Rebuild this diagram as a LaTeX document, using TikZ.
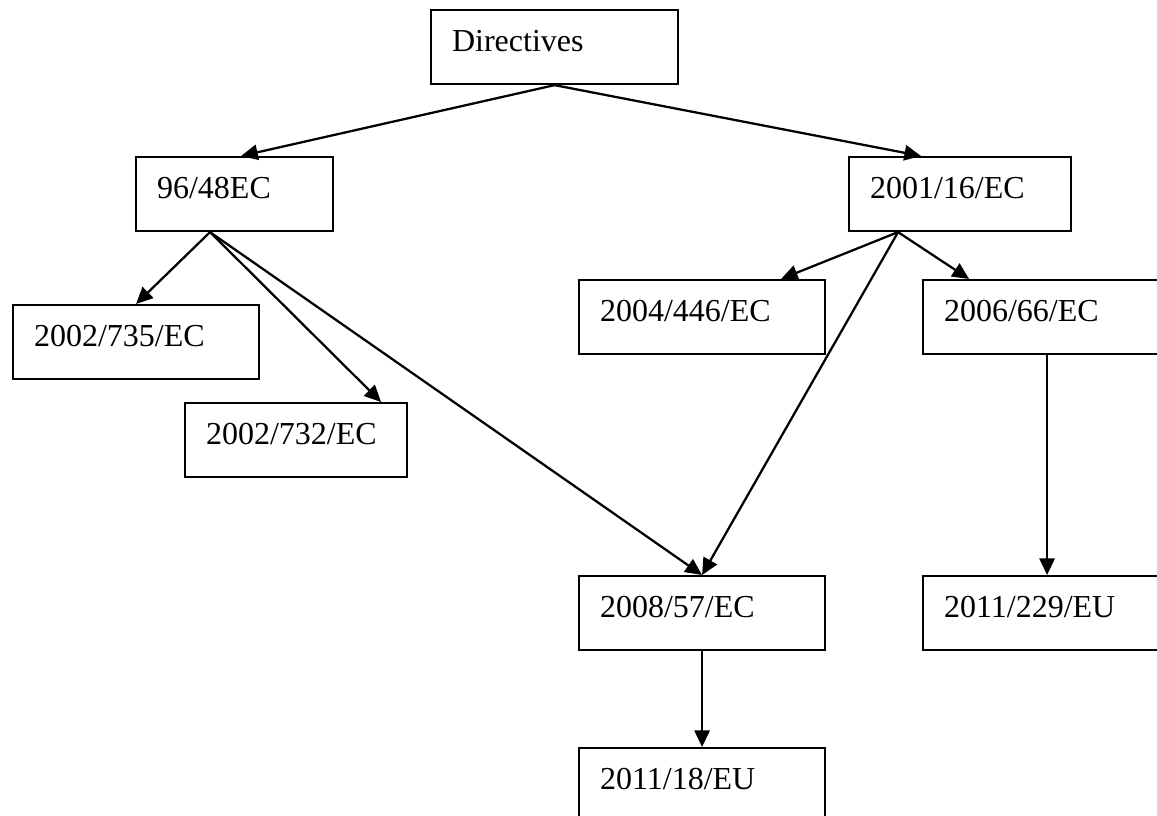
\documentclass[tikz,border=0pt]{standalone}
\usepackage{fontspec}
\setmainfont{Liberation Serif}
\usetikzlibrary{arrows.meta}

\begin{document}
\begin{tikzpicture}[x=0.75pt,y=0.75pt,yscale=-1,xscale=1,
  dirbox/.style={draw, line width=1.6pt, anchor=north west, inner xsep=15.75pt, inner ysep=0pt,
    text height=30.75pt, text depth=24.75pt, align=left, text width={(#1-42)*0.75pt},
    font=\fontsize{24}{28}\selectfont},
  link/.style={line width=1.7pt, -{Triangle[length=12.5pt,width=11.5pt]}}]
%set diagram left start at 0, and has height of 816
\path[use as bounding box, clip] (0,0) rectangle (1157,816);

% Boxes
\node [dirbox=247] (dir) at (430,9) {Directives};
\node [dirbox=197] (n96) at (135,156) {96/48EC};
\node [dirbox=222] (n2001) at (848,156) {2001/16/EC};
\node [dirbox=246] (n735) at (12,304) {2002/735/EC};
\node [dirbox=222] (n732) at (184,402) {2002/732/EC};
\node [dirbox=246] (n446) at (578,279) {2004/446/EC};
\node [dirbox=248] (n2006) at (922,279) {2006/66/EC};
\node [dirbox=246] (n2008) at (578,575) {2008/57/EC};
\node [dirbox=248] (n229) at (922,575) {2011/229/EU};
\node [dirbox=246] (n18) at (578,747) {2011/18/EU};

% Arrows
\draw [link] (dir.south) -- ([xshift=4.9pt]n96.north);
\draw [link] (dir.south) -- ([xshift=-29.25pt]n2001.north);
\draw [link] ([xshift=-18.4pt]n96.south) -- (n735.north);
\draw [link] ([xshift=-18.4pt]n96.south) -- ([xshift=63.75pt]n732.north);
\draw [link] ([xshift=-18.4pt]n96.south) -- (n2008.north);
\draw [link] ([xshift=-46.5pt]n2001.south) -- ([xshift=59.25pt]n446.north);
\draw [link] ([xshift=-46.5pt]n2001.south) -- ([xshift=-58.5pt]n2006.north);
\draw [link] ([xshift=-46.5pt]n2001.south) -- (n2008.north);
\draw [link] (n2006.south) -- (n229.north);
\draw [link] (n2008.south) -- (n18.north);
\end{tikzpicture}
\end{document}
